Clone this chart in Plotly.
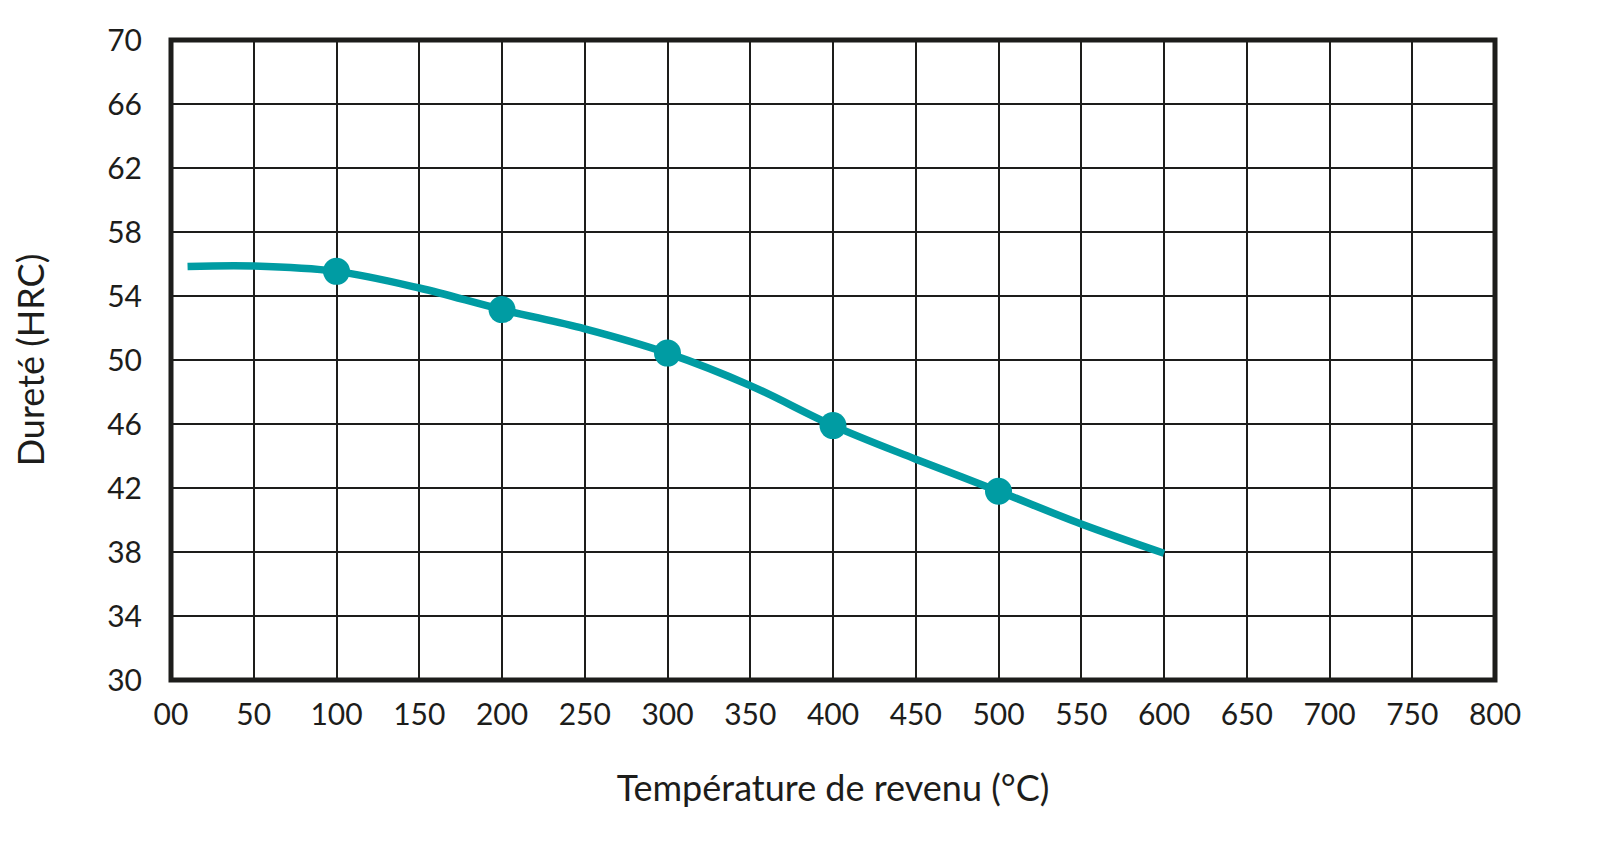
import plotly.graph_objects as go

# Courbe de revenu : dureté en fonction de la température
temp_curve = [10, 50, 100, 150, 200, 250, 300, 350, 400, 450, 500, 550, 600]
hrc_curve = [55.85, 55.88, 55.54, 54.5, 53.15, 51.95, 50.43, 48.4, 45.9, 43.8, 41.8, 39.75, 37.92]

# points mesurés
temp_pts = [100, 200, 300, 400, 500]
hrc_pts = [55.54, 53.15, 50.43, 45.9, 41.8]

x_ticks = list(range(0, 801, 50))
x_labels = ["00"] + [str(v) for v in x_ticks[1:]]
y_ticks = list(range(30, 71, 4))

teal = "#009ca3"
ink = "#1d1d1b"
font_name = "Lato, 'Noto Sans', sans-serif"

fig = go.Figure()

fig.add_trace(
    go.Scatter(
        x=temp_curve,
        y=hrc_curve,
        mode="lines",
        line=dict(color=teal, width=7.5, shape="spline", smoothing=1.0),
        hoverinfo="skip",
        showlegend=False,
    )
)

fig.add_trace(
    go.Scatter(
        x=temp_pts,
        y=hrc_pts,
        mode="markers",
        marker=dict(color=teal, size=27),
        showlegend=False,
    )
)

# cadre épais autour de la zone de tracé
fig.add_shape(
    type="rect", xref="paper", yref="paper",
    x0=0, x1=1, y0=0, y1=1,
    line=dict(color=ink, width=5),
    layer="above",
)

fig.update_xaxes(
    range=[0, 800],
    tickvals=x_ticks,
    ticktext=x_labels,
    showgrid=True,
    gridcolor=ink,
    gridwidth=1.5,
    zeroline=False,
    showline=False,
    ticks="",
    ticklabelstandoff=14,
    tickfont=dict(size=30, color=ink, family=font_name),
    title=dict(text="Température de revenu (°C)", standoff=45,
               font=dict(size=36, color=ink, family=font_name)),
)

fig.update_yaxes(
    range=[30, 70],
    tickvals=y_ticks,
    showgrid=True,
    gridcolor=ink,
    gridwidth=1.5,
    zeroline=False,
    showline=False,
    ticks="",
    ticklabelstandoff=28,
    tickfont=dict(size=30, color=ink, family=font_name),
    title=dict(text="Dureté (HRC)", standoff=55,
               font=dict(size=36, color=ink, family=font_name)),
)

fig.update_layout(
    width=1621,
    height=862,
    margin=dict(l=163, r=134, t=26, b=190),
    plot_bgcolor="white",
    paper_bgcolor="white",
    font=dict(family=font_name, color=ink),
)

fig.write_html("out.html")
